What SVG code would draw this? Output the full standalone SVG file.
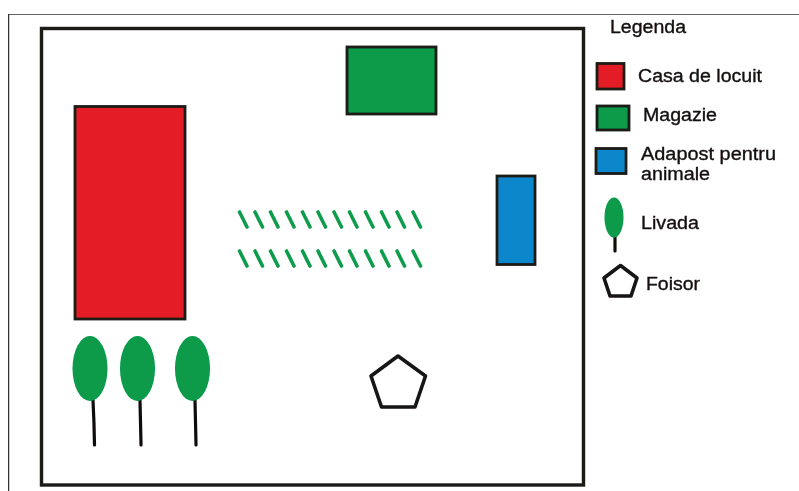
<svg xmlns="http://www.w3.org/2000/svg" width="799" height="491" viewBox="0 0 799 491">
<defs><style>
.o{fill:none;stroke:#1f1a18;stroke-width:3.4}
.b{stroke:#1f1a18;stroke-width:2.8}
.g{fill:#079a4a}
.s{fill:none;stroke:#0f0c0b;stroke-width:3.2;stroke-linecap:round}
.h{stroke:#0c9c4c;stroke-width:3.6;stroke-linecap:round;fill:none}
.p{fill:#fff;stroke:#171413;stroke-width:3.6;stroke-linejoin:round}
text{font-family:"Liberation Sans",Arial,sans-serif;font-size:18px;fill:#141110;stroke:#141110;stroke-width:.35}
</style><filter id="soft" x="0" y="0" width="100%" height="100%"><feGaussianBlur stdDeviation="0.6"/></filter></defs>
<rect width="799" height="491" fill="#fff"/>
<g filter="url(#soft)">
<path d="M8.500 491V14H799" fill="none" stroke="#333" stroke-width="1.500"/>
<rect id="teren" class="o" x="41.500" y="28.500" width="542" height="456.500"/>
<g id="casa"><rect class="b" x="75" y="106.500" width="110" height="212.500" fill="#e31f26"/></g>
<g id="magazie"><rect class="b" x="347" y="47" width="89" height="67" fill="#079a4a"/></g>
<g id="adapost"><rect class="b" x="497" y="176" width="38" height="88.500" fill="#0f87cc"/></g>
<g id="gradina">
<path class="h" d="M239.500 212l7.500 15M255 212l7.500 15M270.500 212l7.500 15M286.500 212l7.500 15M302.500 212l7.500 15M318 212l7.500 15M334 212l7.500 15M349.500 212l7.500 15M365.500 212l7.500 15M381.500 212l7.500 15M397 212l7.500 15M413 212l7.500 15"/>
<path class="h" d="M239.500 251l7.500 15M255 251l7.500 15M270.500 251l7.500 15M286.500 251l7.500 15M302.500 251l7.500 15M318 251l7.500 15M334 251l7.500 15M349.500 251l7.500 15M365.500 251l7.500 15M381.500 251l7.500 15M397 251l7.500 15M413 251l7.500 15"/>
</g>
<g id="pom1"><path class="s" d="M93 400l1 24 .5 21"/><ellipse class="g" cx="90" cy="368.500" rx="17.500" ry="32.500"/></g>
<g id="pom2"><path class="s" d="M140 400l.5 22 .5 23"/><ellipse class="g" cx="137.500" cy="368.500" rx="17.500" ry="32.500"/></g>
<g id="pom3"><path class="s" d="M195 400l.5 22 .5 23"/><ellipse class="g" cx="192.500" cy="368.500" rx="17.500" ry="32.500"/></g>
<g id="foisor"><polygon class="p" points="398,356 425.500,376 415,407 381.500,407 371,376"/></g>
<g id="legenda">
<text x="610" y="33" textLength="76" lengthAdjust="spacingAndGlyphs">Legenda</text>
<rect class="b" x="597" y="63.500" width="27" height="25.500" fill="#e31f26"/>
<text x="638" y="82" textLength="124" lengthAdjust="spacingAndGlyphs">Casa de locuit</text>
<rect class="b" x="597" y="106" width="32" height="24" fill="#079a4a"/>
<text x="643" y="121" textLength="74" lengthAdjust="spacingAndGlyphs">Magazie</text>
<rect class="b" x="596" y="148.500" width="30" height="25" fill="#0f87cc"/>
<text x="641" y="160" textLength="135" lengthAdjust="spacingAndGlyphs">Adapost pentru</text>
<text x="641" y="180" textLength="69" lengthAdjust="spacingAndGlyphs">animale</text>
<path class="s" d="M615 228v23"/>
<ellipse class="g" cx="614" cy="217.500" rx="9.500" ry="20"/>
<text x="641" y="229" textLength="58" lengthAdjust="spacingAndGlyphs">Livada</text>
<polygon class="p" points="620.500,265.500 637,278 631,296 610,296 604,278"/>
<text x="646" y="290" textLength="54" lengthAdjust="spacingAndGlyphs">Foisor</text>
</g>
</g>
</svg>
